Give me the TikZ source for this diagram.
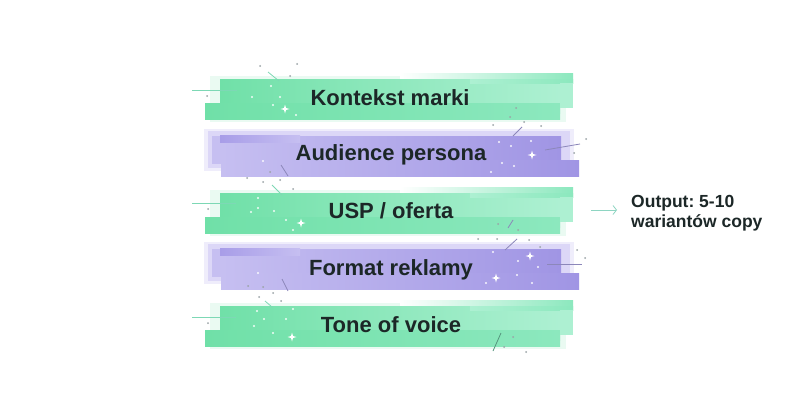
\documentclass[tikz,border=0pt]{standalone}
\usepackage{fontspec}
\setmainfont{Liberation Sans}
\usetikzlibrary{arrows.meta}
\definecolor{gHalo}{HTML}{EAFAF2}
\definecolor{gSat}{HTML}{70E0A8}
\definecolor{gMid}{HTML}{8CE8BE}
\definecolor{gLight}{HTML}{ADF0D2}
\definecolor{gPale}{HTML}{C2F4DD}
\definecolor{pHalo}{HTML}{EFEDFB}
\definecolor{pSat}{HTML}{A095E4}
\definecolor{pMid}{HTML}{B4ABEC}
\definecolor{pLeft}{HTML}{C6BFF1}
\definecolor{pLight}{HTML}{DCD7F7}
\definecolor{pDark}{HTML}{A89DE8}
\definecolor{txt}{HTML}{1C2727}
\definecolor{dotc}{HTML}{9AA3A6}
\definecolor{gLine}{HTML}{7DD8B5}
\definecolor{pLine}{HTML}{8C87BA}
\definecolor{arrc}{HTML}{8ED5C2}
\newcommand\greenbar[1]{%
  \fill[gHalo] (210,{#1+3}) rectangle (566,{#1+49});
  \fill[gPale] (220,{#1+6}) rectangle (573,{#1+35});
  \fill[left color=white, right color=gMid] (400,{#1}) rectangle (573,{#1+10});
  \fill[left color=gSat, right color=gLight] (220,{#1+6}) rectangle (560,{#1+40});
  \fill[left color=gSat, right color=gMid] (205,{#1+30}) rectangle (560,{#1+46});
  \fill[left color=gLight, right color=gMid] (470,{#1+6}) rectangle (573,{#1+10});
  \fill[gLight] (560,{#1+10}) rectangle (573,{#1+35});
}
\newcommand\purplebar[1]{%
  \fill[pHalo] (204,{#1-2}) rectangle (574,{#1+40});
  \fill[pLight] (208,{#1}) rectangle (570,{#1+37});
  \fill[pLeft] (212,{#1+5}) rectangle (300,{#1+33});
  \fill[left color=pLeft, right color=pSat] (221,{#1+5}) rectangle (561,{#1+40});
  \fill[left color=pLeft, right color=pSat] (221,{#1+29}) rectangle (579,{#1+45});
  \fill[left color=pDark, right color=pLeft] (220,{#1+4}) rectangle (300,{#1+11});
}
\tikzset{
  sparkle/.pic={\fill[white] (0,-4.5) -- (1,-1) -- (4.5,0) -- (1,1) -- (0,4.5) -- (-1,1) -- (-4.5,0) -- (-1,-1) -- cycle;},
  lbl/.style={font=\fontsize{22}{26}\selectfont\bfseries, text=txt, inner sep=0pt, anchor=base},
  outtxt/.style={font=\fontsize{17.5}{20}\selectfont\bfseries\frenchspacing, text=txt, inner sep=0pt, anchor=base west},
  gl/.style={gLine, line width=.8pt},
  pl/.style={pLine, line width=.8pt},
  arr/.style={arrc, line width=.8pt, -{Straight Barb[length=3.5pt,width=9pt]}}
}
\begin{document}
\begin{tikzpicture}[x=1pt,y=-1pt]
\useasboundingbox (0,0) rectangle (800,420);
\fill[white] (0,0) rectangle (800,420);
\greenbar{73}
\purplebar{131}
\greenbar{187}
\purplebar{244}
\greenbar{300}
% decorative lines
\draw[gl] (192,90.7) -- (237,90.7);
\draw[gl] (268,72) -- (279,81);
\draw[gl] (192,203) -- (236,203);
\draw[gl] (272,185) -- (282,195);
\draw[gl] (192,317) -- (236,317);
\draw[gl] (265,301) -- (272,307);
\draw[pl] (513,136) -- (522,127);
\draw[pl] (545,150) -- (580,144);
\draw[pl] (281,165) -- (288,176);
\draw[pl] (508,228) -- (513,220);
\draw[pl] (505,250) -- (517,239);
\draw[pl] (547,264) -- (582,264);
\draw[pl] (282,279) -- (288,291);
\draw[gl, gLine!70!black] (493,351) -- (501,333);
% grey dots
\foreach \p in {(207,96),(260,66),(297,64),(290,76),(510,117),(524,122),(493,125),(541,126),(516,108),
  (574,153),(586,139),(263,182),(280,180),(247,178),(293,189),(270,172),(208,209),
  (498,224),(518,230),(529,240),(540,247),(478,239),(497,239),(585,258),(577,250),
  (248,286),(263,287),(273,293),(259,297),(281,301),(208,323),(513,337),(504,347),(526,352)}
  \fill[dotc] \p circle (1);
% white dots
\foreach \p in {(271,86),(280,97),(252,97),(273,105),(296,115),
  (499,142),(511,146),(531,141),(502,163),(514,166),(491,172),(263,161),
  (258,198),(258,208),(251,212),(274,211),(286,220),(293,230),
  (493,252),(518,261),(538,267),(517,275),(532,283),(486,283),(258,273),
  (257,311),(264,319),(254,326),(273,333),(286,319),(293,309)}
  \fill[white, opacity=.9] \p circle (1.2);
% sparkles
\foreach \p in {(285,109),(532,155),(301,223),(530,256),(496,278),(292,337)}
  \pic at \p {sparkle};
% labels
\node[lbl] (t1) at (390,105) {Kontekst marki};
\node[lbl] (t2) at (391,160.5) {Audience persona};
\node[lbl] (t3) at (391,218) {USP / oferta};
\node[lbl] (t4) at (391,275) {Format reklamy};
\node[lbl] (t5) at (391,332) {Tone of voice};
% output
\node[outtxt] (o1) at (631,207.5) {Output: 5-10};
\node[outtxt] (o2) at (631,227.5) {wariantów copy};
\coordinate (arrS) at (591,210);
\draw[arr] (arrS) -- ([xshift=-14pt]o1.west |- arrS);
\end{tikzpicture}
\end{document}
